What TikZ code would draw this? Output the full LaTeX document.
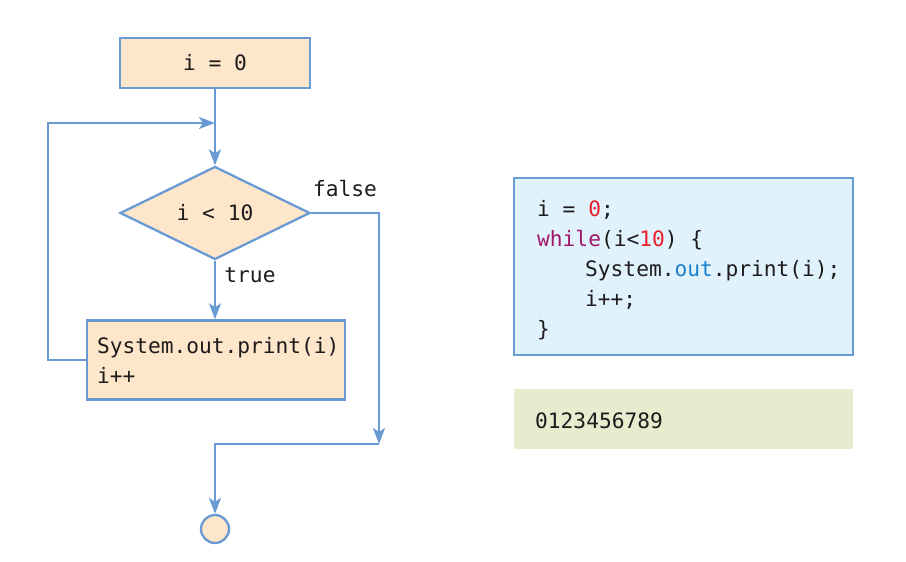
\documentclass[tikz,border=0pt]{standalone}
\usepackage{fontspec}
\setmonofont{DejaVu Sans Mono}
\usetikzlibrary{shapes.geometric,arrows.meta}
\definecolor{lineblue}{HTML}{6A9AD4}
\definecolor{peach}{HTML}{FDE6CA}
\definecolor{codebg}{HTML}{E0F2FC}
\definecolor{outbg}{HTML}{E8EBCD}
\definecolor{ink}{HTML}{1E1B1C}
\definecolor{kwred}{HTML}{E8202A}
\definecolor{kwpurple}{HTML}{A0186A}
\definecolor{kwblue}{HTML}{1A7FCB}
\begin{document}
\begin{tikzpicture}[x=1pt,y=-1pt,
  every node/.style={text=ink, font=\fontsize{21.2}{30}\selectfont\ttfamily},
  flow/.style={draw=lineblue, line width=2.3pt, fill=peach, inner sep=0pt},
  conn/.style={draw=lineblue, line width=2.3pt, line join=miter, -{Stealth[length=16pt,width=12pt,inset=4pt]}},
  wire/.style={draw=lineblue, line width=2.3pt},
  codeline/.style={anchor=base west, inner sep=0pt}]
\useasboundingbox (0,0) rectangle (906,562);

% flowchart
\node[flow, minimum width=258pt, minimum height=79pt, text width=238pt, inner xsep=10pt, align=left] (body) at (216,360) {System.out.print(i)\\i++};
\node[flow, minimum width=190pt, minimum height=50pt] (init) at (215,63) {i = 0};
\node[flow, diamond, minimum width=190pt, minimum height=90pt] (dec) at (215,213) {i < 10};
\node[flow, circle, minimum size=28pt] (stop) at (215,529) {};

\coordinate (join) at (215,123);
\coordinate (loopleft) at (48,123);
\coordinate (merge) at (379,444);

\draw[wire] (init.south) -- (join);
\draw[conn] (join) -- (dec.north);
\draw[conn] (dec.south) -- (dec.south |- body.north);
\draw[conn] (body.west) -- (body.west -| loopleft) -- (loopleft) -- (join);
\draw[conn] (dec.east) -| (merge);
\draw[conn] (merge) -| (stop.north);

\node (lblfalse) at (345,189) {false};
\node (lbltrue) at (250,275) {true};

% source code
\node[draw=lineblue, line width=2.3pt, fill=codebg, minimum width=339pt, minimum height=177pt, inner sep=0pt] (codebox) at (683.5,266.5) {};
\node[codeline] (l1) at (537,216) {i = \textcolor{kwred}{0};};
\node[codeline] (l2) at (537,246) {\textcolor{kwpurple}{while}(i<\textcolor{kwred}{10}) \{};
\node[codeline] (l3) at (585,276) {System.\textcolor{kwblue}{out}.print(i);};
\node[codeline] (l4) at (585,306) {i++;};
\node[codeline] (l5) at (537,336) {\}};

% console output
\node[fill=outbg, minimum width=339pt, minimum height=60pt, inner sep=0pt] (outbox) at (683.5,419) {};
\node[codeline] (outtext) at (535,428) {0123456789};
\end{tikzpicture}
\end{document}
